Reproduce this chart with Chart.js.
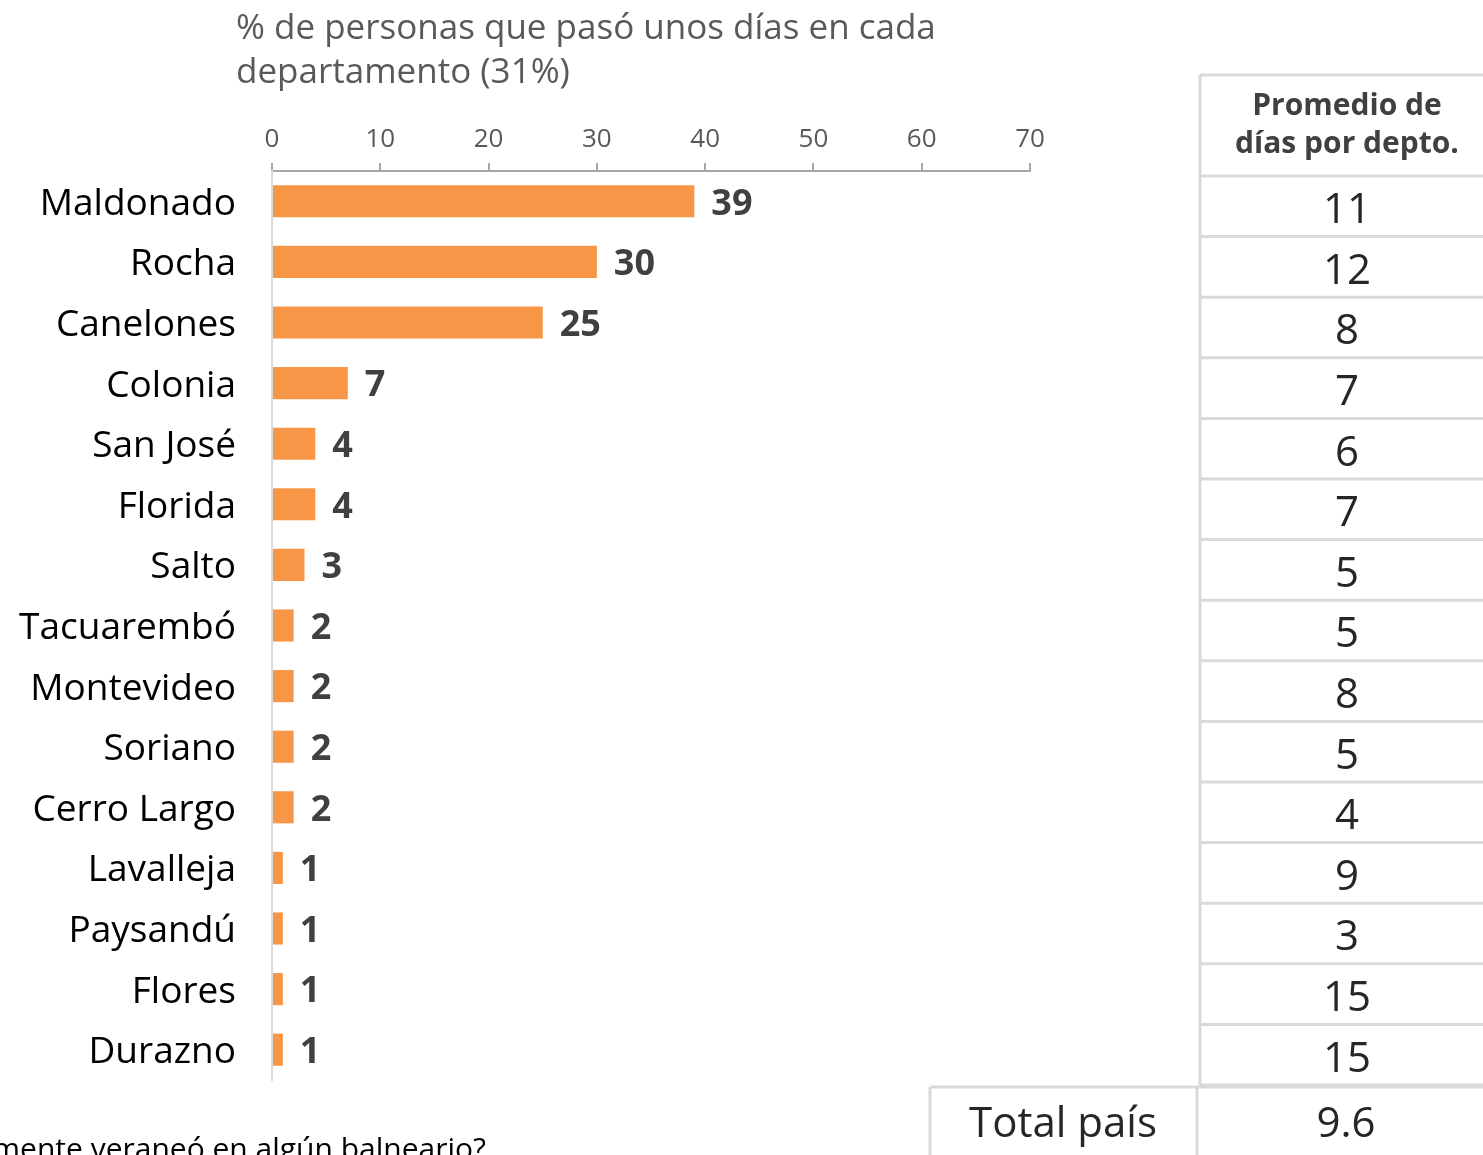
<!DOCTYPE html>
<html lang="es">
<head>
<meta charset="UTF-8">
<title>Veraneo por departamento</title>
<script src="https://cdn.jsdelivr.net/npm/chart.js"></script>
<style>
  html, body { margin: 0; padding: 0; background: #fff; }
  #wrap { width: 1483px; height: 1155px; position: relative; overflow: hidden; }
</style>
</head>
<body>
<div id="wrap"><canvas id="grafico" width="1483" height="1155"></canvas></div>

<script>
  // datos
  const departamentos = ['Maldonado', 'Rocha', 'Canelones', 'Colonia', 'San José', 'Florida', 'Salto',
    'Tacuarembó', 'Montevideo', 'Soriano', 'Cerro Largo', 'Lavalleja', 'Paysandú', 'Flores', 'Durazno'];
  const porcentajes = [39, 30, 25, 7, 4, 4, 3, 2, 2, 2, 2, 1, 1, 1, 1];
  const diasPromedio = ['11', '12', '8', '7', '6', '7', '5', '5', '8', '5', '4', '9', '3', '15', '15'];
  const ejeMin = 0, ejeMax = 70, ejePaso = 10;
  const titulo = ['% de personas que pasó unos días en cada', 'departamento (31%)'];
  const encabezadoTabla = ['Promedio de', 'días por depto.'];
  const totalEtiqueta = 'Total país';
  const totalPais = '9.6';
  const preguntaPie = 'mente veraneó en algún balneario?';

  const FUENTE = '"Open Sans", "Noto Sans", sans-serif';
  const GRIS_LINEA = '#d9d9d9';

  // etiquetas de valor, titulo, tabla y texto inferior
  const extras = {
    id: 'extras',
    afterDatasetsDraw(chart) {
      const ctx = chart.ctx;
      const meta = chart.getDatasetMeta(0);
      ctx.save();
      ctx.fillStyle = '#404040';
      ctx.font = 'bold 36px ' + FUENTE;
      ctx.textAlign = 'left';
      ctx.textBaseline = 'middle';
      meta.data.forEach((bar, i) => {
        ctx.fillText(porcentajes[i], bar.x + 17, bar.y + 3);
      });
      ctx.restore();
    },
    afterDraw(chart) {
      const ctx = chart.ctx;
      const y = chart.scales.y;
      ctx.save();

      // titulo
      ctx.fillStyle = '#595959';
      ctx.font = '35px ' + FUENTE;
      ctx.textAlign = 'left';
      ctx.textBaseline = 'middle';
      ctx.fillText(titulo[0], 236, 29);
      ctx.fillText(titulo[1], 236, 73);

      // tabla de promedio de dias
      const xIzq = 1200, xDer = 1490, xCentro = 1347;
      const desf = 5;
      const bordes = [];
      for (let i = 0; i <= departamentos.length; i++) {
        bordes.push(y.getPixelForValue(i - 0.5) + desf);
      }
      ctx.strokeStyle = GRIS_LINEA;
      ctx.lineWidth = 3;
      ctx.beginPath();
      ctx.moveTo(xIzq, 75); ctx.lineTo(xDer, 75);
      ctx.moveTo(xIzq, 75); ctx.lineTo(xIzq, bordes[bordes.length - 1]);
      bordes.forEach(b => { ctx.moveTo(xIzq, b); ctx.lineTo(xDer, b); });
      ctx.stroke();

      ctx.fillStyle = '#404040';
      ctx.font = 'bold 30px ' + FUENTE;
      ctx.textAlign = 'center';
      ctx.fillText(encabezadoTabla[0], xCentro, 106);
      ctx.fillText(encabezadoTabla[1], xCentro, 144);

      ctx.fillStyle = '#262626';
      ctx.font = '42px ' + FUENTE;
      diasPromedio.forEach((d, i) => {
        ctx.fillText(d, xCentro, (bordes[i] + bordes[i + 1]) / 2 + 5);
      });

      // fila total pais
      ctx.beginPath();
      ctx.moveTo(930, 1087); ctx.lineTo(xDer, 1087);
      ctx.moveTo(930, 1087); ctx.lineTo(930, 1160);
      ctx.moveTo(1197, 1087); ctx.lineTo(1197, 1160);
      ctx.stroke();
      ctx.fillStyle = '#262626';
      ctx.font = '42px ' + FUENTE;
      ctx.fillText(totalEtiqueta, 1063, 1125);
      ctx.fillText(totalPais, 1346, 1125);

      // texto cortado de la pregunta siguiente
      ctx.fillStyle = '#000';
      ctx.font = '30px ' + FUENTE;
      ctx.textAlign = 'right';
      ctx.textBaseline = 'alphabetic';
      ctx.fillText(preguntaPie, 486, 1159);

      ctx.restore();
    }
  };

  const ctx = document.getElementById('grafico');
  new Chart(ctx, {
    type: 'bar',
    data: {
      labels: departamentos,
      datasets: [{
        data: porcentajes,
        backgroundColor: '#f79646',
        borderWidth: 0,
        categoryPercentage: 1,
        barPercentage: 0.53
      }]
    },
    options: {
      indexAxis: 'y',
      responsive: false,
      animation: false,
      devicePixelRatio: 1,
      layout: { padding: { left: 0, right: 453, top: 0, bottom: 75 } },
      plugins: { legend: { display: false }, tooltip: { enabled: false } },
      scales: {
        x: {
          position: 'top',
          min: ejeMin,
          max: ejeMax,
          ticks: { stepSize: ejePaso, color: '#595959', font: { family: FUENTE, size: 26 }, padding: 8 },
          grid: { drawOnChartArea: false, drawTicks: true, tickLength: 8, color: '#a6a6a6', lineWidth: 2 },
          border: { color: '#a6a6a6', width: 2 },
          afterFit(scale) { scale.height = 171; }
        },
        y: {
          ticks: { color: '#000', font: { family: FUENTE, size: 37 }, padding: 36, labelOffset: 3 },
          grid: { display: false, drawTicks: false },
          border: { color: GRIS_LINEA, width: 2 },
          afterFit(scale) { scale.width = 272; }
        }
      }
    },
    plugins: [extras]
  });
</script>
</body>
</html>
